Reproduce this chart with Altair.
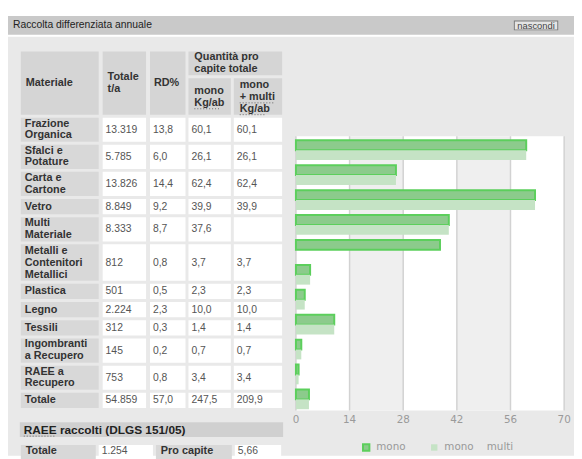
import altair as alt
import pandas as pd

# ---------------- data ----------------
materiali = ["Frazione\nOrganica", "Sfalci e\nPotature", "Carta e\nCartone", "Vetro",
             "Multi\nMateriale", "Metalli e\nContenitori\nMetallici", "Plastica", "Legno",
             "Tessili", "Ingombranti\na Recupero", "RAEE a\nRecupero"]
totale_ta = [13319, 5785, 13826, 8849, 8333, 812, 501, 2224, 312, 145, 753]
rd_pct = [13.8, 6.0, 14.4, 9.2, 8.7, 0.8, 0.5, 2.3, 0.3, 0.2, 0.8]
kg_mono = [60.1, 26.1, 62.4, 39.9, 37.6, 3.7, 2.3, 10.0, 1.4, 0.7, 3.4]
kg_mono_multi = [60.1, 26.1, 62.4, 39.9, None, 3.7, 2.3, 10.0, 1.4, 0.7, 3.4]
totale_riga = ["Totale", 54859, 57.0, 247.5, 209.9]
raee_totale = 1254
raee_pro_capite = 5.66
serie = ["mono", "mono\u00a0\u00a0\u00a0\u00a0multi"]
tick_x = [0, 14, 28, 42, 56, 70]
header_cols = ["Materiale", "Totale\nt/a", "RD%"]
header_group = "Quantità pro\ncapite totale"
header_sub = ["mono\nKg/ab", "mono\n+ multi\nKg/ab"]
titolo = "Raccolta differenziata annuale"
bottone = "nascondi"
raee_titolo = "RAEE raccolti (DLGS 151/05)"
raee_labels = ["Totale", "Pro capite"]


def f_int(v):
    return f"{v:,}".replace(",", ".")


def f_dec(v, d=1):
    return "" if v is None else f"{v:.{d}f}".replace(".", ",")


# ---------------- layout ----------------
W, H = 574, 451
COLS = [(13, 92), (96, 140), (144, 180), (183, 226), (229, 278)]
ROW_H = {1: 15.5, 2: 24.5, 3: 37.0}
LINE_H = 12
GAP = 3
HEAD_Y0, HEAD_MID0, HEAD_MID1, HEAD_Y1 = 41, 65, 68, 105
BODY_Y0 = 108
X_RANGE = [292, 564]
Y_RANGE = [127, 405]
AXIS_LABEL_Y = 415
GREY_HEAD = "#d5d5d5"
GREY_LAB = "#d8d8d8"

rects, texts, dots = [], [], []


def rect(x0, x1, y0, y1, fill):
    rects.append(dict(x0=x0, x1=x1, y0=y0, y1=y1, fill=fill))


def text(x, yc, t, style, lh=LINE_H):
    # yc is the vertical centre of the whole text block
    n = t.count("\n") + 1
    texts.append(dict(x=x, y=yc - (n - 1) * lh / 2, text=t, style=style))


# page background pieces
rect(0, W, 5, 24, "#c9c9c9")
rect(0, W, 26, H, "#e9e9e9")
text(5, 14.5, titolo, "title")

# header of the table
for i, lab in enumerate(header_cols):
    rect(COLS[i][0], COLS[i][1], HEAD_Y0, HEAD_Y1, GREY_HEAD)
    text(COLS[i][0] + (5 if i != 2 else 4), (HEAD_Y0 + HEAD_Y1) / 2, lab, "head")
rect(COLS[3][0], COLS[4][1], HEAD_Y0, HEAD_MID0, GREY_HEAD)
text(COLS[3][0] + 6, (HEAD_Y0 + HEAD_MID0) / 2, header_group, "head", 13)
for j, lab in enumerate(header_sub):
    c = COLS[3 + j]
    rect(c[0], c[1], HEAD_MID1, HEAD_Y1, GREY_HEAD)
    text(c[0] + 6, (HEAD_MID1 + HEAD_Y1) / 2 + 0.5, lab, "head")
dots.append(dict(x0=COLS[3][0] + 6, x1=COLS[3][0] + 32, y=99))
dots.append(dict(x0=COLS[4][0] + 6, x1=COLS[4][0] + 42, y=93))
dots.append(dict(x0=COLS[4][0] + 6, x1=COLS[4][0] + 32, y=105))

# body rows
rows = []
for i in range(len(materiali)):
    rows.append([materiali[i], f_int(totale_ta[i]), f_dec(rd_pct[i]),
                 f_dec(kg_mono[i]), f_dec(kg_mono_multi[i])])
rows.append([totale_riga[0], f_int(totale_riga[1]), f_dec(totale_riga[2]),
             f_dec(totale_riga[3]), f_dec(totale_riga[4])])

y = BODY_Y0
for r in rows:
    n = r[0].count("\n") + 1
    h = ROW_H[n]
    for k, c in enumerate(COLS):
        rect(c[0], c[1], y, y + h, GREY_LAB if k == 0 else "#ffffff")
        if k == 0:
            text(c[0] + 4, y + h / 2, r[0], "head", 11.5 if n == 3 else 12.5)
        else:
            text(c[0] + 3, y + h / 2, r[k], "val")
    y += h + GAP

# RAEE block
rect(12, 279, 417, 432, "#d0d0d0")
text(16, 425, raee_titolo, "big")
dots.append(dict(x0=16, x1=48, y=431))
raee_cells = [(13, 89, GREY_LAB, raee_labels[0], "head"),
              (92, 147, "#ffffff", f_int(raee_totale), "val"),
              (150, 227, GREY_LAB, raee_labels[1], "head"),
              (230, 277, "#ffffff", f_dec(raee_pro_capite, 2), "val")]
for x0, x1, fill, t, st in raee_cells:
    rect(x0, x1, 440, 458, fill)
    text(x0 + (5 if st == "head" else 3), 446, t, st)

# button
rect(513, 558, 9.5, 19.5, "#7a7a7a")
rect(514, 557, 10.5, 18.5, "#e4e4e4")
text(535.5, 14.8, bottone, "btn")

rects_df = pd.DataFrame(rects)
texts_df = pd.DataFrame(texts)
dots_df = pd.DataFrame(dots)

# bar data
mat_keys = [m.replace("\n", " ") for m in materiali]
bar_rows = []
for i, m in enumerate(mat_keys):
    bar_rows.append(dict(materiale=m, serie=serie[0], valore=kg_mono[i]))
    if kg_mono_multi[i] is not None:
        bar_rows.append(dict(materiale=m, serie=serie[1], valore=kg_mono_multi[i]))
bars_df = pd.DataFrame(bar_rows)
bands_df = pd.DataFrame(dict(b0=[0, 14, 42], b1=[70, 28, 56],
                             fill=["#ffffff", "#efefef", "#efefef"]))
ticks_df = pd.DataFrame(dict(t=tick_x, lab=[str(t) for t in tick_x]))

XS = alt.Scale(domain=[0, 70], range=X_RANGE, nice=False, zero=True)

base_rects = alt.Chart(rects_df).mark_rect().encode(
    x=alt.X("x0:Q", scale=None, axis=None), x2="x1:Q",
    y=alt.Y("y0:Q", scale=None, axis=None), y2="y1:Q",
    color=alt.Color("fill:N", scale=None),
)

bands = alt.Chart(bands_df).mark_rect().encode(
    x=alt.X("b0:Q", scale=XS, axis=None), x2="b1:Q",
    y=alt.value(Y_RANGE[0]), y2=alt.value(Y_RANGE[1]),
    color=alt.Color("fill:N", scale=None),
)

grid = alt.Chart(ticks_df).mark_rule(color="#d2d2d2", strokeWidth=1.5).encode(
    x=alt.X("t:Q", scale=XS, axis=None),
    y=alt.value(Y_RANGE[0]), y2=alt.value(Y_RANGE[1]),
)

tick_labels = alt.Chart(ticks_df).mark_text(
    font="DejaVu Sans", fontSize=10.5, color="#9a9a9a", align="center", baseline="middle"
).encode(
    x=alt.X("t:Q", scale=XS, axis=None),
    y=alt.value(AXIS_LABEL_Y),
    text="lab:N",
)

leg = alt.Legend(orient="none", legendX=358, legendY=437, direction="horizontal",
                 title=None, symbolType="square", symbolSize=42, symbolStrokeWidth=2,
                 labelFont="DejaVu Sans", labelFontSize=10.5, labelColor="#999999",
                 labelOffset=5, columnPadding=21, zindex=2)

bars = alt.Chart(bars_df).mark_bar(strokeWidth=2).encode(
    x=alt.X("valore:Q", scale=XS, axis=None),
    y=alt.Y("materiale:N", sort=mat_keys,
            scale=alt.Scale(domain=mat_keys, range=Y_RANGE, paddingInner=0, paddingOuter=0),
            axis=None),
    yOffset=alt.YOffset("serie:N", sort=serie,
                        scale=alt.Scale(domain=serie, range=[4, 24],
                                        paddingInner=0, paddingOuter=0)),
    color=alt.Color("serie:N", sort=serie,
                    scale=alt.Scale(domain=serie, range=["#8ccb8c", "#c5e3c5"]),
                    legend=leg),
    stroke=alt.Stroke("serie:N", sort=serie,
                      scale=alt.Scale(domain=serie, range=["#5ccf5c", "transparent"]),
                      legend=leg),
)

STYLES = {
    "title": dict(font="Liberation Sans", fontSize=10.5, fontWeight="normal", color="#222222", align="left"),
    "head": dict(font="Liberation Sans", fontSize=11, fontWeight="bold", color="#333333", align="left"),
    "val": dict(font="Liberation Sans", fontSize=10.5, fontWeight="normal", color="#555555", align="left"),
    "big": dict(font="Liberation Sans", fontSize=12, fontWeight="bold", color="#222222", align="left"),
    "btn": dict(font="Liberation Sans", fontSize=9.5, fontWeight="normal", color="#444444", align="center"),
}

text_layers = []
for name, st in STYLES.items():
    text_layers.append(
        alt.Chart(texts_df).transform_filter(alt.datum.style == name)
        .mark_text(baseline="middle", lineBreak="\n", lineHeight=LINE_H, **st)
        .encode(x=alt.X("x:Q", scale=None, axis=None),
                y=alt.Y("y:Q", scale=None, axis=None),
                text="text:N")
    )

dotted = alt.Chart(dots_df).mark_rule(color="#666666", strokeWidth=1, strokeDash=[1, 2]).encode(
    x=alt.X("x0:Q", scale=None, axis=None), x2="x1:Q",
    y=alt.Y("y:Q", scale=None, axis=None),
)

chart = alt.layer(base_rects, bands, grid, bars, tick_labels, dotted, *text_layers).properties(
    width=W, height=H, autosize=alt.AutoSizeParams(type="none"), padding=0,
    background="#ffffff",
).configure_view(stroke=None)

chart.save("out.html", embed_options={"renderer": "svg", "actions": False})
